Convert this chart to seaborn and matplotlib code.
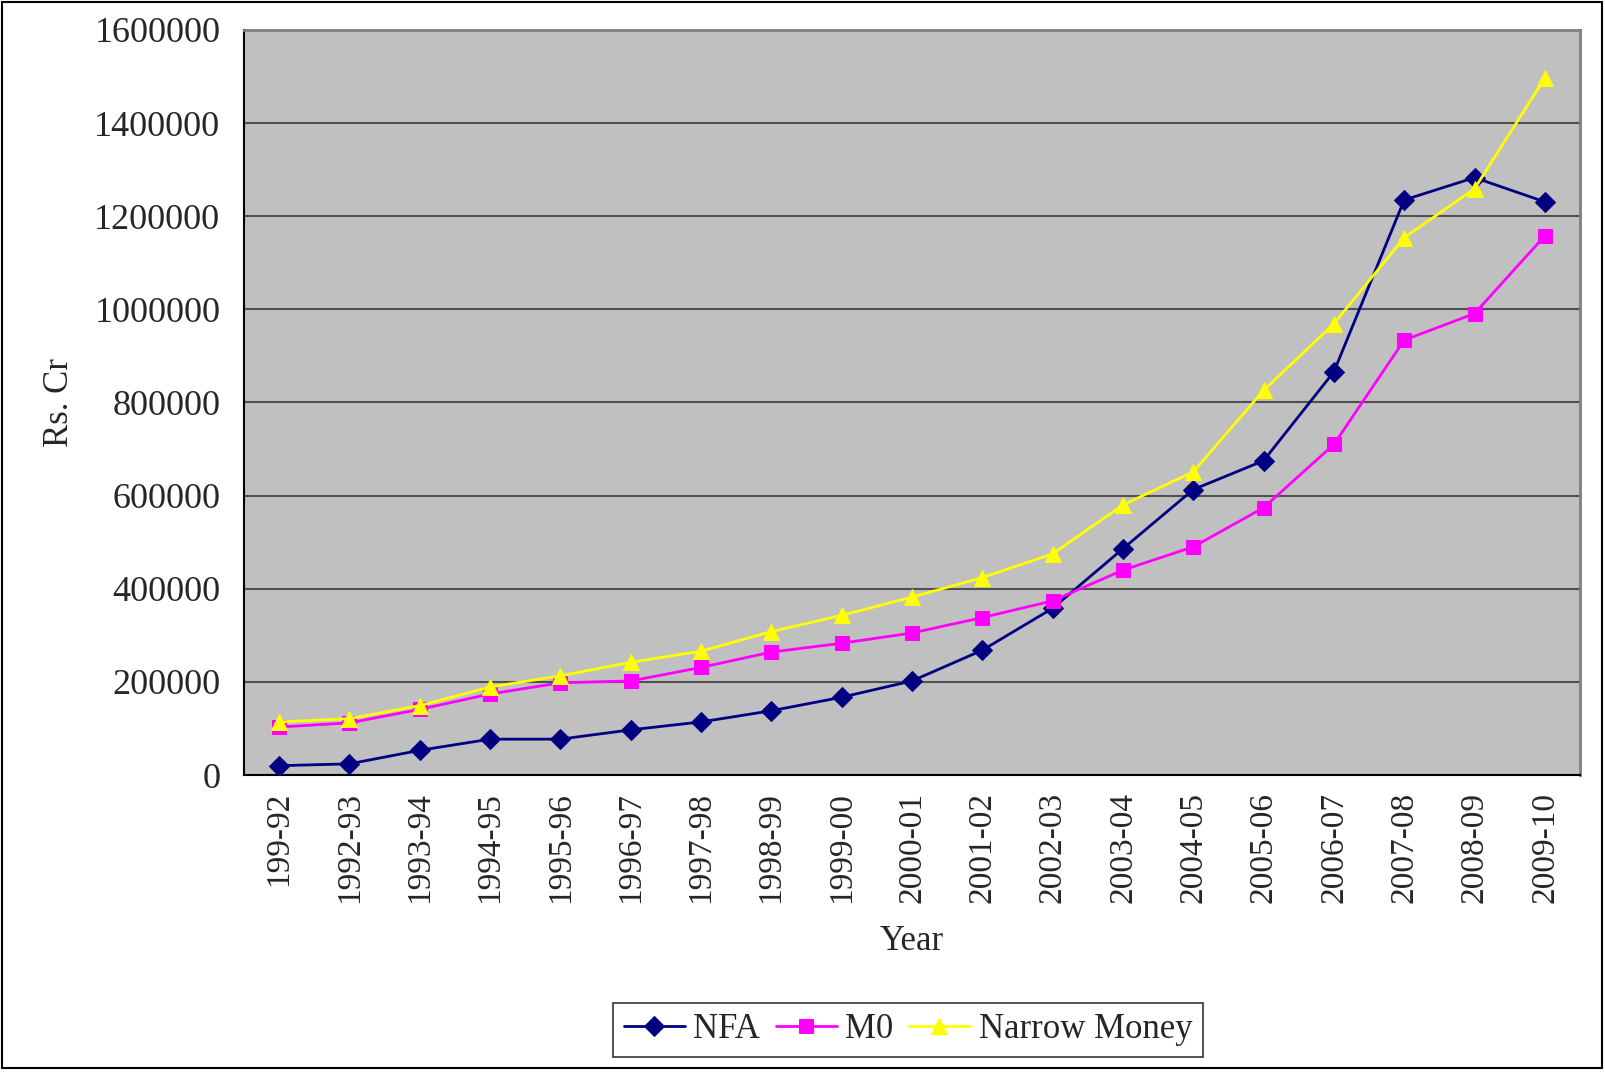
import matplotlib
matplotlib.use("Agg")
import matplotlib.pyplot as plt
from matplotlib.patches import Rectangle
from matplotlib.ticker import FixedLocator, NullLocator
import seaborn as sns
import pandas as pd

years = ["199-92", "1992-93", "1993-94", "1994-95", "1995-96", "1996-97",
         "1997-98", "1998-99", "1999-00", "2000-01", "2001-02", "2002-03",
         "2003-04", "2004-05", "2005-06", "2006-07", "2007-08", "2008-09",
         "2009-10"]

nfa = [20000, 24000, 53000, 77000, 77000, 97000, 114000, 138000, 167000,
       202000, 268000, 358000, 486000, 613000, 675000, 866000, 1235000,
       1283000, 1231000]

m0 = [103000, 112000, 141000, 174000, 198000, 202000, 231000, 264000,
      283000, 305000, 338000, 374000, 440000, 490000, 574000, 710000,
      934000, 991000, 1158000]

narrow_money = [114000, 121000, 149000, 189000, 213000, 242000, 266000,
                308000, 343000, 382000, 424000, 475000, 580000, 651000,
                826000, 969000, 1154000, 1259000, 1497000]

y_ticks = [0, 200000, 400000, 600000, 800000, 1000000, 1200000, 1400000,
           1600000]

sns.set_style("white")
plt.rcParams["font.family"] = ["Liberation Serif", "DejaVu Serif"]

df = pd.DataFrame({"pos": range(len(years)), "NFA": nfa, "M0": m0,
                   "Narrow Money": narrow_money})

fig = plt.figure(figsize=(16.06, 10.73), dpi=100)
ax = fig.add_axes([244 / 1606, 1 - 775 / 1073, (1580 - 244) / 1606,
                   (775 - 30) / 1073])
ax.set_facecolor("#C0C0C0")

styles = [
    ("NFA", "#000080", "D", 10),
    ("M0", "#FF00FF", "s", 10),
    ("Narrow Money", "#FFFF00", "^", 12),
]
for name, color, marker, ms in styles:
    sns.lineplot(data=df, x="pos", y=name, ax=ax, color=color, marker=marker,
                 markersize=ms, markeredgecolor=color, linewidth=2,
                 label=name, zorder=3)

ax.set_xlim(-0.5, len(years) - 0.5)
ax.set_ylim(0, 1600000)

# categories sit between the x tick marks
ax.xaxis.set_major_locator(FixedLocator(range(len(years))))
ax.set_xticklabels(years, rotation=90, fontsize=24)
ax.xaxis.set_minor_locator(FixedLocator([i - 0.5 for i in range(len(years) + 1)]))
ax.tick_params(axis="x", which="major", length=0, pad=12)
ax.tick_params(axis="x", which="minor", length=7.5, width=1.2,
               color="black", direction="out")

ax.set_yticks(y_ticks)
ax.set_yticklabels([str(v) for v in y_ticks], fontsize=26)
ax.tick_params(axis="y", which="major", length=8, width=1.2,
               color="black", direction="out", pad=9)
ax.yaxis.set_minor_locator(NullLocator())

ax.grid(axis="y", color="#505050", linewidth=1.5, zorder=1)
ax.grid(axis="x", visible=False)
ax.set_axisbelow(True)

for side in ("left", "bottom"):
    ax.spines[side].set_color("black")
    ax.spines[side].set_linewidth(1.5)
for side in ("top", "right"):
    ax.spines[side].set_color("#808080")
    ax.spines[side].set_linewidth(2)

ax.set_xlabel("Year", fontsize=25, labelpad=16)
ax.set_ylabel("Rs. Cr", fontsize=25, labelpad=13)

handles, labels = ax.get_legend_handles_labels()
ax.get_legend().remove()
leg = fig.legend(handles, labels, loc="center",
                 bbox_to_anchor=(908 / 1606, 1 - 1030 / 1073), ncol=3,
                 fontsize=25, frameon=True, fancybox=False, edgecolor="black",
                 handlelength=1.75, handletextpad=0.25, columnspacing=0.45,
                 borderpad=0.3)
leg.get_frame().set_linewidth(1.2)

# outer chart border
fig.patches.append(Rectangle((2 / 1606, 5 / 1073), 1 - 6 / 1606, 1 - 7 / 1073,
                             transform=fig.transFigure, fill=False,
                             edgecolor="black", linewidth=1.5))

fig.savefig("out.png", dpi=100, facecolor="white")
